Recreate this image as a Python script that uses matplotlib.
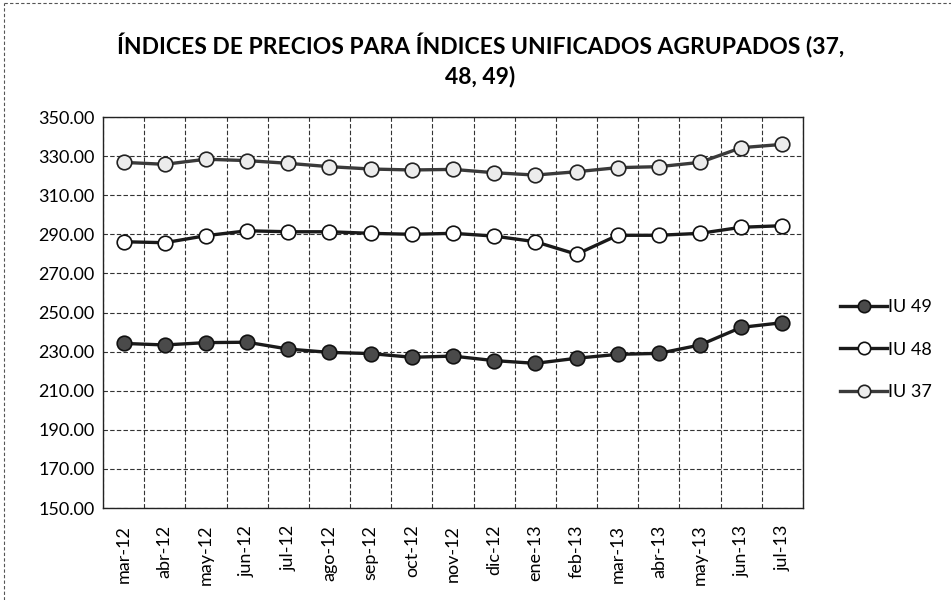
import matplotlib.pyplot as plt
import numpy as np

# %%
# Data
months = ['mar-12', 'abr-12', 'may-12', 'jun-12', 'jul-12', 'ago-12',
          'sep-12', 'oct-12', 'nov-12', 'dic-12', 'ene-13', 'feb-13',
          'mar-13', 'abr-13', 'may-13', 'jun-13', 'jul-13']
iu49 = [234.2, 233.4, 234.6, 234.8, 231.3, 229.6, 229.0, 227.1, 227.7,
        225.4, 224.0, 226.6, 228.6, 229.1, 233.4, 242.4, 244.8]
iu48 = [286.2, 285.7, 289.3, 291.8, 291.3, 291.3, 290.5, 290.0, 290.5,
        289.1, 286.2, 279.8, 289.5, 289.5, 290.5, 293.6, 294.4]
iu37 = [326.8, 325.8, 328.4, 327.7, 326.3, 324.6, 323.4, 322.9, 323.2,
        321.5, 320.3, 322.0, 324.1, 324.6, 326.8, 334.3, 336.0]
y_ticks = np.arange(150, 351, 20)

plt.rcParams['font.family'] = ['Lato', 'DejaVu Sans']

# %%
fig = plt.figure(figsize=(9.51, 6), dpi=100)
ax = fig.add_axes([0.1083, 0.1533, 0.7361, 0.6517])

x = np.arange(len(months))
ax.plot(x, iu49, color='#1a1a1a', lw=2.4, marker='o', markersize=10.5,
        markerfacecolor='#4a4a4a', markeredgecolor='#111111',
        markeredgewidth=1.2, label='IU 49', zorder=3)
ax.plot(x, iu48, color='#1a1a1a', lw=2.4, marker='o', markersize=10.5,
        markerfacecolor='white', markeredgecolor='#111111',
        markeredgewidth=1.2, label='IU 48', zorder=3)
ax.plot(x, iu37, color='#3a3a3a', lw=2.4, marker='o', markersize=10.5,
        markerfacecolor='#ececec', markeredgecolor='#222222',
        markeredgewidth=1.2, label='IU 37', zorder=3)

ax.set_xlim(-0.5, len(months) - 0.5)
ax.set_ylim(150, 350)
ax.set_yticks(y_ticks)
ax.set_yticklabels([f'{v:.2f}' for v in y_ticks], fontsize=13)
ax.set_xticks(x)
ax.set_xticklabels(months, rotation=90, fontsize=13)
ax.set_xticks(np.arange(-0.5, len(months), 1), minor=True)
ax.tick_params(axis='x', which='both', length=0, pad=12)
ax.tick_params(axis='y', length=0, pad=6)

ax.grid(False)
ax.yaxis.grid(True, color='#333333', linestyle=(0, (4, 2)), lw=0.8)
ax.xaxis.grid(True, which='minor', color='#333333',
              linestyle=(0, (4, 2)), lw=0.8)
for s in ax.spines.values():
    s.set_color('#222222')
    s.set_linewidth(1.0)

fig.text(0.505, 0.945, 'ÍNDICES DE PRECIOS PARA ÍNDICES UNIFICADOS AGRUPADOS (37,\n48, 49)',
         ha='center', va='top', fontsize=16.5, fontweight='bold',
         linespacing=1.45)

leg = ax.legend(loc='center left', bbox_to_anchor=(1.03, 0.405),
                frameon=False, fontsize=13, handlelength=2.6,
                handletextpad=0.05, labelspacing=1.45, markerscale=0.85)

# dashed frame around the picture
fig.add_artist(plt.Line2D([0.004, 0.004], [0.0, 0.995], color='#555555',
                          lw=0.8, linestyle=(0, (3, 2))))
fig.add_artist(plt.Line2D([0.004, 1.0], [0.995, 0.995], color='#555555',
                          lw=0.8, linestyle=(0, (3, 2))))

fig.savefig('out.png', dpi=100)
